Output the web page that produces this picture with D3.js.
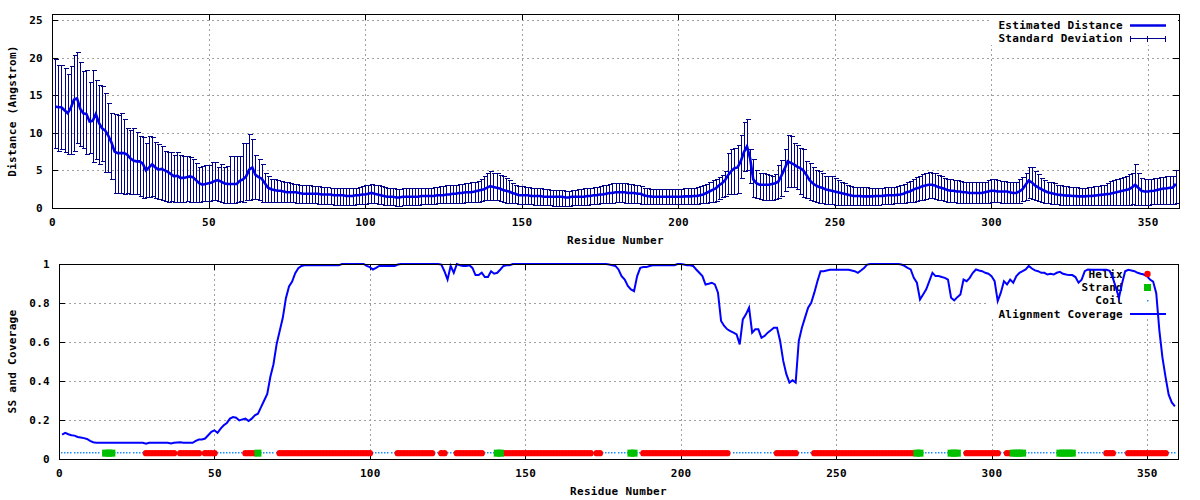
<!DOCTYPE html>
<meta charset="utf-8">
<style>
    body {
        margin: 0;
        background: #fff;
    }
    svg text {
        font-family: "DejaVu Sans Mono", "Liberation Mono", monospace;
        font-weight: bold;
        font-size: 11px;
        letter-spacing: 0.3px;
        fill: #000;
    }
    .grid line {
        stroke: #a0a0a0;
        stroke-dasharray: 2,3;
        shape-rendering: crispEdges;
    }
    .tick line, .frame {
        shape-rendering: crispEdges;
    }
</style>

<script src="https://d3js.org/d3.v7.min.js"></script>
<div id="chart"></div>
<script>

    // estimated distance per residue (1..359)
    var distance = [
        13.5,13.4,13.4,13.0,12.6,13.3,14.4,14.6,13.2,12.6,
        12.5,11.5,11.6,12.5,11.3,10.6,10.3,9.6,8.7,7.5,
        7.3,7.3,7.3,7.1,6.6,6.3,6.2,6.2,5.9,5.0,
        5.4,5.8,5.4,5.1,5.2,5.0,4.8,4.5,4.2,4.3,
        4.0,4.0,4.1,4.2,4.1,3.7,3.3,3.1,3.2,3.3,
        3.4,3.6,3.7,3.5,3.3,3.2,3.2,3.2,3.2,3.6,
        3.8,4.2,5.1,5.4,4.4,4.1,3.9,3.3,2.7,2.5,
        2.4,2.3,2.3,2.2,2.1,2.1,2.1,2.1,2.0,1.9,
        1.9,1.9,1.9,1.9,1.9,1.8,1.8,1.8,1.8,1.7,
        1.7,1.7,1.7,1.6,1.6,1.6,1.7,1.7,1.8,1.8,
        1.9,2.0,1.9,1.8,1.7,1.6,1.5,1.5,1.5,1.4,
        1.4,1.5,1.5,1.5,1.5,1.5,1.5,1.6,1.6,1.6,
        1.6,1.6,1.7,1.7,1.7,1.8,1.8,1.9,1.9,2.0,
        2.0,2.1,2.1,2.1,2.2,2.3,2.4,2.5,2.7,2.9,
        2.8,2.7,2.6,2.4,2.3,2.2,2.0,1.9,1.7,1.7,
        1.7,1.7,1.6,1.6,1.6,1.6,1.5,1.5,1.5,1.5,
        1.5,1.5,1.5,1.4,1.4,1.5,1.5,1.5,1.5,1.5,
        1.6,1.6,1.7,1.7,1.8,1.8,1.9,2.0,2.0,2.1,
        2.1,2.1,2.1,2.0,2.0,2.0,1.9,1.9,1.7,1.6,
        1.55,1.5,1.5,1.5,1.5,1.5,1.5,1.5,1.5,1.5,
        1.5,1.55,1.55,1.55,1.6,1.6,1.7,1.8,2.0,2.2,
        2.4,2.6,3.0,3.3,3.7,4.4,4.9,5.3,5.4,6.2,
        7.4,8.2,6.6,3.8,3.3,3.1,3.1,3.1,3.1,3.2,
        3.3,3.5,4.3,5.2,6.2,6.0,5.8,5.5,5.3,5.0,
        4.4,3.7,3.3,3.0,2.8,2.7,2.5,2.4,2.3,2.2,
        2.1,2.0,1.9,1.8,1.7,1.6,1.6,1.6,1.55,1.55,
        1.55,1.55,1.6,1.6,1.6,1.65,1.7,1.7,1.7,1.75,
        1.8,1.9,2.1,2.2,2.4,2.6,2.7,2.9,3.0,3.1,
        3.1,3.0,2.8,2.7,2.55,2.4,2.3,2.3,2.2,2.2,
        2.1,2.1,2.0,2.0,2.0,2.0,2.0,2.1,2.2,2.3,
        2.3,2.2,2.2,2.2,2.2,2.1,2.0,2.0,2.2,2.5,
        3.1,3.65,3.4,3.0,2.75,2.5,2.3,2.1,2.0,1.9,
        1.8,1.75,1.7,1.65,1.65,1.6,1.6,1.55,1.55,1.55,
        1.6,1.6,1.65,1.7,1.75,1.8,1.85,1.9,2.0,2.1,
        2.2,2.3,2.4,2.5,2.75,3.1,2.7,2.3,2.2,2.2,
        2.25,2.3,2.4,2.5,2.6,2.6,2.7,2.7,3.2
    ];

    // upper end of the standard deviation bar
    var devHigh = [
        19.8,19.0,19.0,18.6,17.8,18.9,20.3,20.7,19.4,18.2,
        18.3,16.7,18.4,17.0,16.3,16.2,15.3,13.9,12.6,12.5,
        12.4,12.6,11.9,10.6,10.4,10.6,10.1,9.6,9.5,8.7,
        9.6,9.4,8.8,8.5,8.3,7.6,7.4,7.4,7.0,7.4,
        7.0,6.9,6.9,6.8,6.5,6.0,5.5,5.6,5.7,5.7,
        6.1,6.1,5.4,5.8,5.4,5.6,6.9,6.9,6.9,6.9,
        8.6,8.6,9.9,9.2,7.0,6.5,5.8,4.7,4.2,3.9,
        3.8,3.7,3.6,3.5,3.4,3.3,3.2,3.2,3.1,3.0,
        3.0,3.0,2.9,2.9,2.9,2.8,2.8,2.8,2.7,2.7,
        2.7,2.7,2.6,2.6,2.6,2.6,2.7,2.8,2.9,3.0,
        3.1,3.2,3.1,3.0,2.9,2.8,2.7,2.6,2.6,2.5,
        2.5,2.6,2.6,2.6,2.6,2.6,2.7,2.7,2.7,2.7,
        2.7,2.8,2.8,2.9,2.9,3.0,3.0,3.1,3.1,3.2,
        3.2,3.3,3.3,3.4,3.5,3.6,3.9,4.3,4.6,4.9,
        4.7,4.6,4.4,4.3,4.0,3.7,3.3,3.0,2.9,2.9,
        2.8,2.8,2.7,2.7,2.6,2.6,2.5,2.5,2.4,2.4,
        2.4,2.4,2.4,2.3,2.3,2.4,2.4,2.5,2.5,2.6,
        2.6,2.7,2.8,2.8,2.9,3.0,3.1,3.2,3.3,3.3,
        3.3,3.3,3.3,3.2,3.2,3.1,3.0,2.9,2.7,2.6,
        2.5,2.5,2.5,2.5,2.5,2.5,2.5,2.5,2.5,2.5,
        2.5,2.6,2.6,2.7,2.7,2.8,2.9,3.0,3.2,3.4,
        3.7,3.8,4.1,4.4,4.9,7.3,7.8,8.0,8.4,9.7,
        11.5,11.8,7.8,6.5,5.1,4.7,4.6,4.5,4.4,4.3,
        4.5,5.7,6.4,7.8,9.7,9.6,8.6,8.4,8.0,7.8,
        6.2,6.0,5.5,5.1,4.9,4.6,4.3,4.2,4.2,4.0,
        3.7,3.5,3.3,3.1,2.9,2.8,2.8,2.8,2.75,2.75,
        2.7,2.7,2.7,2.7,2.7,2.75,2.75,2.8,2.8,2.9,
        3.0,3.2,3.4,3.6,3.9,4.1,4.3,4.5,4.7,4.8,
        4.7,4.6,4.4,4.2,4.0,3.9,3.8,3.7,3.7,3.6,
        3.5,3.5,3.4,3.4,3.4,3.4,3.4,3.5,3.7,3.9,
        3.8,3.7,3.6,3.6,3.5,3.4,3.4,3.5,3.8,4.1,
        4.7,5.5,5.4,4.9,4.5,4.0,3.7,3.5,3.4,3.3,
        3.1,3.0,2.9,2.9,2.8,2.8,2.8,2.7,2.7,2.7,
        2.8,2.8,2.9,2.9,3.0,3.1,3.3,3.6,3.7,3.9,
        4.0,4.1,4.3,4.5,4.7,5.9,4.6,4.0,3.9,3.9,
        3.9,4.0,4.0,4.1,4.1,4.2,4.3,4.3,5.0
    ];

    // lower end of the standard deviation bar
    var devLow = [
        8.0,7.6,7.8,7.4,7.2,7.2,7.6,8.7,8.3,8.0,
        7.2,7.3,6.1,6.5,5.8,6.3,4.8,4.8,3.9,2.0,
        2.0,2.0,1.9,2.0,1.9,1.8,1.8,1.6,1.3,1.4,
        1.5,1.6,1.3,1.2,1.1,0.9,0.8,0.9,0.8,0.8,
        0.8,0.8,0.9,0.8,0.8,0.8,0.8,0.9,0.9,0.9,
        1.0,1.0,0.9,0.8,0.7,0.7,0.7,0.7,0.8,0.9,
        0.8,1.0,1.1,1.2,1.2,1.0,0.8,0.8,0.8,0.8,
        0.8,0.8,0.8,0.8,0.8,0.75,0.75,0.7,0.7,0.7,
        0.7,0.65,0.6,0.6,0.55,0.5,0.5,0.5,0.5,0.45,
        0.45,0.45,0.45,0.45,0.45,0.45,0.5,0.5,0.55,0.55,
        0.6,0.7,0.6,0.55,0.5,0.45,0.4,0.35,0.35,0.3,
        0.3,0.35,0.35,0.4,0.4,0.4,0.45,0.5,0.5,0.55,
        0.55,0.55,0.6,0.6,0.6,0.6,0.65,0.65,0.65,0.7,
        0.7,0.75,0.75,0.75,0.8,0.85,0.9,1.0,1.0,1.1,
        1.1,1.0,0.9,0.8,0.7,0.7,0.65,0.6,0.55,0.55,
        0.55,0.5,0.5,0.45,0.45,0.4,0.4,0.35,0.35,0.3,
        0.3,0.3,0.3,0.3,0.3,0.35,0.35,0.4,0.4,0.45,
        0.45,0.5,0.5,0.55,0.6,0.6,0.65,0.7,0.7,0.75,
        0.75,0.75,0.7,0.7,0.7,0.65,0.6,0.55,0.5,0.5,
        0.5,0.5,0.5,0.5,0.5,0.5,0.5,0.5,0.5,0.5,
        0.5,0.5,0.5,0.5,0.5,0.55,0.6,0.65,0.7,0.8,
        0.8,0.9,1.2,1.5,1.6,1.8,1.8,1.9,2.0,4.0,
        4.9,5.0,3.3,1.5,1.3,1.2,1.1,1.1,1.1,1.1,
        1.2,1.3,1.6,2.2,2.8,2.8,2.8,2.5,1.8,1.5,
        1.3,1.1,0.9,0.8,0.7,0.6,0.55,0.5,0.5,0.45,
        0.45,0.45,0.45,0.45,0.45,0.45,0.45,0.45,0.45,0.45,
        0.45,0.45,0.45,0.45,0.5,0.5,0.5,0.55,0.6,0.6,
        0.65,0.7,0.75,0.8,0.85,0.9,1.0,1.1,1.2,1.3,
        1.3,1.2,1.1,1.0,0.9,0.85,0.8,0.75,0.7,0.7,
        0.65,0.65,0.6,0.6,0.6,0.6,0.6,0.7,0.7,0.8,
        0.8,0.75,0.7,0.7,0.7,0.65,0.6,0.6,0.7,0.9,
        1.1,1.3,1.2,1.0,0.9,0.8,0.7,0.6,0.55,0.5,
        0.5,0.45,0.45,0.4,0.4,0.4,0.4,0.35,0.35,0.35,
        0.35,0.35,0.4,0.4,0.4,0.45,0.45,0.45,0.45,0.45,
        0.45,0.45,0.45,0.45,0.5,0.4,0.45,0.45,0.45,0.45,
        0.5,0.5,0.5,0.55,0.55,0.55,0.55,0.55,0.6
    ];

    // alignment coverage per residue (1..359)
    var coverage = [
        0.125,0.134,0.127,0.122,0.12,0.113,0.11,0.107,0.103,0.093,
        0.086,0.083,0.083,0.083,0.083,0.083,0.083,0.083,0.083,0.083,
        0.083,0.083,0.083,0.083,0.083,0.083,0.083,0.078,0.083,0.083,
        0.083,0.083,0.083,0.083,0.083,0.08,0.083,0.085,0.086,0.083,
        0.083,0.083,0.083,0.093,0.1,0.1,0.105,0.122,0.139,0.147,
        0.134,0.156,0.173,0.185,0.207,0.215,0.212,0.198,0.203,0.207,
        0.195,0.207,0.224,0.232,0.266,0.3,0.334,0.422,0.486,0.588,
        0.656,0.724,0.825,0.885,0.91,0.953,0.978,0.99,0.993,0.993,
        0.993,0.993,0.993,0.993,0.993,0.993,0.993,0.993,0.993,0.993,
        1.0,1.0,1.0,1.0,1.0,1.0,1.0,1.0,0.99,0.984,
        0.972,0.98,0.99,0.99,0.99,0.99,0.99,0.99,0.997,1.0,
        1.0,1.0,1.0,1.0,1.0,1.0,1.0,1.0,1.0,1.0,
        1.0,1.0,0.997,0.963,0.92,0.99,0.955,1.0,0.994,0.99,
        0.99,0.994,0.98,0.943,0.943,0.955,0.933,0.933,0.963,0.95,
        0.955,0.972,0.99,0.994,0.994,1.0,1.0,1.0,1.0,1.0,
        1.0,1.0,1.0,1.0,1.0,1.0,1.0,1.0,1.0,1.0,
        1.0,1.0,1.0,1.0,1.0,1.0,1.0,1.0,1.0,1.0,
        1.0,1.0,1.0,1.0,1.0,1.0,0.997,0.994,0.99,0.972,
        0.938,0.92,0.887,0.87,0.861,0.938,0.98,0.984,0.984,0.99,
        0.994,0.994,0.994,0.994,0.994,0.994,0.994,0.994,1.0,1.0,
        0.997,0.994,0.994,0.99,0.972,0.955,0.938,0.895,0.899,0.904,
        0.895,0.853,0.708,0.682,0.665,0.656,0.648,0.639,0.588,0.716,
        0.742,0.776,0.648,0.665,0.665,0.622,0.631,0.648,0.66,0.673,
        0.673,0.605,0.503,0.435,0.392,0.404,0.392,0.605,0.673,0.725,
        0.776,0.801,0.853,0.912,0.963,0.963,0.967,0.97,0.97,0.97,
        0.97,0.97,0.97,0.97,0.967,0.963,0.955,0.967,0.98,0.997,
        1.0,1.0,1.0,1.0,1.0,1.0,1.0,1.0,1.0,1.0,
        0.997,0.99,0.98,0.972,0.929,0.904,0.818,0.844,0.87,0.912,
        0.955,0.938,0.938,0.933,0.929,0.92,0.827,0.813,0.83,0.844,
        0.92,0.912,0.929,0.955,0.972,0.967,0.963,0.955,0.95,0.938,
        0.912,0.81,0.853,0.912,0.895,0.92,0.904,0.938,0.955,0.963,
        0.972,0.99,0.977,0.967,0.963,0.955,0.955,0.946,0.95,0.946,
        0.955,0.96,0.95,0.946,0.943,0.943,0.933,0.904,0.92,0.963,
        0.972,0.97,0.97,0.97,0.97,0.97,0.97,0.965,0.93,0.88,
        0.827,0.9,0.963,0.97,0.967,0.963,0.955,0.95,0.946,0.938,
        0.92,0.91,0.85,0.66,0.52,0.42,0.33,0.29,0.27
    ];

    // secondary structure, residue ranges (everything else is coil)
    var helixSegments = [[28,37],[39,45],[47,50],[60,63],[71,100],[109,120],[123,124],[128,136],
        [143,171],[173,174],[188,215],[231,237],[243,275],[292,302],[305,306],[337,339],[344,356]];
    var strandSegments = [[15,17],[64,64],[141,142],[184,185],[276,277],[287,289],[307,310],[322,326]];
    var ssLevel = 0.03;

    var xTicks = [0, 50, 100, 150, 200, 250, 300, 350];
    var distTicks = [0, 5, 10, 15, 20, 25];
    var covTicks = [0, 0.2, 0.4, 0.6, 0.8, 1];

    var residues = d3.range(1, distance.length + 1);

    var svg = d3.select("#chart")
        .append("svg")
        .attr("width", 1200)
        .attr("height", 500);

    // draws grid, ticks, tick labels and axis titles for one panel
    function drawFrame(x, y, yTickValues, yFormat, xTitle, yTitle, xTitleY, yTitleX) {
        var x0 = x.range()[0], x1 = x.range()[1];
        var yb = y.range()[0], yt = y.range()[1];

        var grid = svg.append("g").attr("class", "grid");
        grid.selectAll("line.v")
            .data(xTicks.filter(function(d) { return d > 0; }))
            .enter().append("line")
            .attr("class", "v")
            .attr("x1", function(d) { return Math.round(x(d)) + 0.5; })
            .attr("x2", function(d) { return Math.round(x(d)) + 0.5; })
            .attr("y1", yt)
            .attr("y2", yb);
        grid.selectAll("line.h")
            .data(yTickValues.filter(function(d) { return d > 0 && y(d) > yt + 2; }))
            .enter().append("line")
            .attr("class", "h")
            .attr("x1", x0)
            .attr("x2", x1)
            .attr("y1", function(d) { return Math.round(y(d)) + 0.5; })
            .attr("y2", function(d) { return Math.round(y(d)) + 0.5; });

        svg.append("g")
            .attr("transform", "translate(0," + yb + ")")
            .call(d3.axisBottom(x).tickValues(xTicks).tickSize(-6).tickPadding(10).tickFormat(d3.format("d")))
            .call(function(g) { g.select(".domain").remove(); g.selectAll("text").style("font-size", null).style("font-family", null); });
        svg.append("g")
            .attr("transform", "translate(0," + yt + ")")
            .call(d3.axisTop(x).tickValues(xTicks).tickSize(-6).tickFormat(""))
            .call(function(g) { g.select(".domain").remove(); });
        svg.append("g")
            .attr("transform", "translate(" + x0 + ",0)")
            .call(d3.axisLeft(y).tickValues(yTickValues).tickSize(-6).tickPadding(9).tickFormat(yFormat))
            .call(function(g) { g.select(".domain").remove(); g.selectAll("text").style("font-size", null).style("font-family", null); });
        svg.append("g")
            .attr("transform", "translate(" + x1 + ",0)")
            .call(d3.axisRight(y).tickValues(yTickValues).tickSize(-6).tickFormat(""))
            .call(function(g) { g.select(".domain").remove(); });

        svg.selectAll(".tick text").attr("font-size", null).attr("font-family", null);

        svg.append("text")
            .attr("x", (x0 + x1) / 2)
            .attr("y", xTitleY)
            .attr("text-anchor", "middle")
            .attr("dy", "0.35em")
            .text(xTitle);
        svg.append("text")
            .attr("transform", "translate(" + yTitleX + "," + ((yb + yt) / 2) + ") rotate(-90)")
            .attr("text-anchor", "middle")
            .attr("dy", "0.35em")
            .text(yTitle);
    }

    function drawBorder(x, y) {
        svg.append("rect")
            .attr("class", "frame")
            .attr("x", Math.round(x.range()[0]) + 0.5)
            .attr("y", Math.round(y.range()[1]) + 0.5)
            .attr("width", Math.round(x.range()[1] - x.range()[0]))
            .attr("height", Math.round(y.range()[0] - y.range()[1]))
            .attr("fill", "none")
            .attr("stroke", "#000");
    }

    // ---------- top panel: estimated distance ----------
    var xTop = d3.scaleLinear().domain([0, 360]).range([52, 1179]);
    var yTop = d3.scaleLinear().domain([0, 25.8]).range([208, 14]);

    drawFrame(xTop, yTop, distTicks, d3.format("d"), "Residue Number", "Distance (Angstrom)", 240, 12);

    // opaque key box
    svg.append("rect").attr("x", 990).attr("y", 15).attr("width", 188).attr("height", 30).attr("fill", "#fff");

    var errColor = "#00008b";
    var bars = svg.append("g").attr("stroke", errColor).attr("stroke-width", 1).attr("shape-rendering", "crispEdges");
    residues.forEach(function(r, i) {
        var px = Math.round(xTop(r)) + 0.5;
        var yh = Math.round(yTop(devHigh[i])) + 0.5;
        var yl = Math.round(yTop(devLow[i])) + 0.5;
        bars.append("line").attr("x1", px).attr("x2", px).attr("y1", yh).attr("y2", yl);
        bars.append("line").attr("x1", px - 2).attr("x2", px + 3).attr("y1", yh).attr("y2", yh);
        bars.append("line").attr("x1", px - 2).attr("x2", px + 3).attr("y1", yl).attr("y2", yl);
    });

    svg.append("path")
        .datum(residues)
        .attr("fill", "none")
        .attr("stroke", "#0000e6")
        .attr("stroke-width", 2.6)
        .attr("stroke-linejoin", "miter")
        .attr("d", d3.line()
            .x(function(d) { return xTop(d); })
            .y(function(d, i) { return yTop(distance[i]); }));

    // key
    var keyTop = [
        {name: "Estimated Distance", y: 25.5},
        {name: "Standard Deviation", y: 38.5}
    ];
    svg.selectAll("text.keytop")
        .data(keyTop)
        .enter().append("text")
        .attr("class", "keytop")
        .attr("x", 1123)
        .attr("y", function(d) { return d.y; })
        .attr("dy", "0.35em")
        .attr("text-anchor", "end")
        .text(function(d) { return d.name; });
    svg.append("line").attr("x1", 1130).attr("x2", 1166).attr("y1", 25.5).attr("y2", 25.5)
        .attr("stroke", "#0000e6").attr("stroke-width", 2.6);
    var errKey = svg.append("g").attr("stroke", errColor).attr("shape-rendering", "crispEdges");
    errKey.append("line").attr("x1", 1130).attr("x2", 1166).attr("y1", 38.5).attr("y2", 38.5);
    [1130.5, 1147.5, 1165.5].forEach(function(kx) {
        errKey.append("line").attr("x1", kx).attr("x2", kx).attr("y1", 35.5).attr("y2", 41.5);
    });

    drawBorder(xTop, yTop);

    // ---------- bottom panel: SS and coverage ----------
    var xBot = d3.scaleLinear().domain([0, 360]).range([59, 1178]);
    var yBot = d3.scaleLinear().domain([0, 1]).range([459, 264]);

    drawFrame(xBot, yBot, covTicks, function(d) { return d3.format("")(d); }, "Residue Number", "SS and Coverage", 491, 12);

    svg.append("rect").attr("x", 988).attr("y", 265).attr("width", 190).attr("height", 54).attr("fill", "#fff");

    var keyBot = [
        {name: "Helix", y: 274},
        {name: "Strand", y: 287.5},
        {name: "Coil", y: 300.5},
        {name: "Alignment Coverage", y: 314}
    ];
    svg.selectAll("text.keybot")
        .data(keyBot)
        .enter().append("text")
        .attr("class", "keybot")
        .attr("x", 1123)
        .attr("y", function(d) { return d.y; })
        .attr("dy", "0.35em")
        .attr("text-anchor", "end")
        .text(function(d) { return d.name; });

    function inSegments(r, segs) {
        return segs.some(function(s) { return r >= s[0] && r <= s[1]; });
    }
    var helixRes = residues.filter(function(r) { return inSegments(r, helixSegments); });
    var strandRes = residues.filter(function(r) { return inSegments(r, strandSegments); });
    var coilRes = residues.filter(function(r) { return !inSegments(r, helixSegments) && !inSegments(r, strandSegments); });

    var ssY = yBot(ssLevel);

    svg.append("g").selectAll("rect")
        .data(coilRes)
        .enter().append("rect")
        .attr("x", function(d) { return Math.round(xBot(d)) - 1; })
        .attr("y", Math.round(ssY) - 1)
        .attr("width", 1.5)
        .attr("height", 1.5)
        .attr("fill", "#1a8cff");

    svg.append("g").selectAll("circle")
        .data(helixRes)
        .enter().append("circle")
        .attr("cx", function(d) { return xBot(d); })
        .attr("cy", ssY)
        .attr("r", 3.2)
        .attr("fill", "#ff0000");

    svg.append("g").selectAll("rect")
        .data(strandRes)
        .enter().append("rect")
        .attr("x", function(d) { return xBot(d) - 3.5; })
        .attr("y", ssY - 3.5)
        .attr("width", 7)
        .attr("height", 7)
        .attr("fill", "#00c000");

    svg.append("path")
        .datum(residues)
        .attr("fill", "none")
        .attr("stroke", "#0000ff")
        .attr("stroke-width", 2)
        .attr("d", d3.line()
            .x(function(d) { return xBot(d); })
            .y(function(d, i) { return yBot(coverage[i]); }));

    // key samples
    svg.append("circle").attr("cx", 1147.5).attr("cy", 274).attr("r", 3.2).attr("fill", "#ff0000");
    svg.append("rect").attr("x", 1144).attr("y", 284).attr("width", 7).attr("height", 7).attr("fill", "#00c000");
    svg.append("rect").attr("x", 1147).attr("y", 300).attr("width", 1.5).attr("height", 1.5).attr("fill", "#1a8cff");
    svg.append("line").attr("x1", 1130).attr("x2", 1166).attr("y1", 314).attr("y2", 314)
        .attr("stroke", "#0000ff").attr("stroke-width", 2);

    drawBorder(xBot, yBot);

</script>
